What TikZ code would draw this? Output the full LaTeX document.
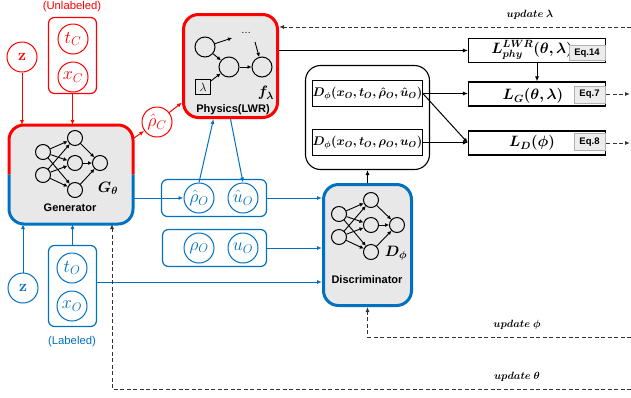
\RequirePackage{fix-cm}
\documentclass[tikz,border=0pt]{standalone}
\usepackage{amsmath,bm}
\usepackage[no-math]{fontspec}
\setmainfont{Liberation Sans}
\usetikzlibrary{arrows.meta,positioning}
\definecolor{rd}{RGB}{255,0,0}
\definecolor{bl}{RGB}{0,112,192}
\definecolor{fillgray}{RGB}{232,232,232}
\definecolor{dashgray}{RGB}{50,50,50}
\tikzset{
	arr/.style={-{Latex[length=5pt,width=4pt]},line width=1pt},
	upd/.style={-{Latex[length=5pt,width=4pt]},line width=1pt,dashgray,dash pattern=on 4pt off 2.5pt},
	var/.style={circle,draw,line width=1pt,minimum size=30pt,inner sep=0pt,font=\fontsize{18}{20}\selectfont},
	grp/.style={draw,rounded corners=6pt,line width=1.2pt},
	neuron/.style={circle,draw,line width=1pt,minimum size=15pt,inner sep=0pt},
	nnarr/.style={-{Latex[length=4pt,width=4pt]},line width=0.9pt},
	bigbox/.style={rounded corners=15pt,fill=fillgray,line width=3pt,inner sep=0pt},
	lossbox/.style={draw,line width=1.1pt,minimum width=137pt,minimum height=24pt,inner sep=0pt},
	eqbtn/.style={draw=gray!60,fill=gray!15,font=\bfseries\fontsize{9.5}{10}\selectfont,inner sep=0pt,minimum height=15pt},
	blocklbl/.style={font=\bfseries\fontsize{11}{13}\selectfont},
	mathlbl/.style={font=\fontsize{15}{17}\selectfont},
	dbox/.style={draw,line width=1.1pt,minimum width=108pt,minimum height=26pt,inner sep=0pt,font=\fontsize{12.5}{14}\selectfont},
	updlbl/.style={font=\fontsize{10.5}{12}\selectfont},
}
\begin{document}
\begin{tikzpicture}[x=1pt,y=-1pt]
	\useasboundingbox (0,0) rectangle (631,397);
	% generator
	\node[bigbox,minimum width=121,minimum height=96] (gen) at (71,174.5) {};
	\draw[rd,line width=3pt,rounded corners=15pt] (gen.west) |- (gen.north) -| (gen.east);
	\draw[bl,line width=3pt,rounded corners=15pt] (gen.west) |- (gen.south) -| (gen.east);
	\node[neuron] (gi1) at (43,152) {};
	\node[neuron] (gi2) at (43,175) {};
	\foreach \n/\y in {1/138,2/163,3/190}
		\node[neuron] (gh\n) at (75,\y) {};
	\node[neuron] (gout) at (100,163) {};
	\foreach \i in {1,2}{
		\foreach \h in {1,2,3}
			\draw[nnarr] (gi\i) -- (gh\h);
	}
	\foreach \h in {1,2,3}
		\draw[nnarr] (gh\h) -- (gout);
	\node[mathlbl] (gname) at (108,188) {$\bm{G_\theta}$};
	\node[blocklbl] (gtext) at (70,208) {Generator};
	% physics
	\node[bigbox,draw=rd,minimum width=94,minimum height=103] (phys) at (230.5,66) {};
	\node[neuron,minimum size=20pt] (p1) at (205,47) {};
	\node[neuron,minimum size=20pt] (p2) at (229,67) {};
	\node[neuron,minimum size=20pt] (p3) at (262,67) {};
	\node[draw,line width=1pt,minimum size=15pt,inner sep=0pt,font=\fontsize{12}{14}\selectfont] (lam) at (203,87) {$\lambda$};
	\node (pdots) at (246,33) {\dots};
	\coordinate (pa) at (232,38);
	\coordinate (pb) at (255,42);
	\draw[nnarr] (p1) -- (pa);
	\draw[nnarr] (p1) -- (p2);
	\draw[nnarr] (lam) -- (p2);
	\draw[nnarr] (p2) -- (p3);
	\draw[nnarr] (pb) -- (p3);
	\node[mathlbl] (fname) at (266,93) {$\bm{f_\lambda}$};
	\node[blocklbl] (ptext) at (233,110) {Physics(LWR)};
	% unlabeled inputs
	\node[rd,font=\fontsize{11.3}{13}\selectfont] (unl) at (72,7) {(Unlabeled)};
	\node[grp,draw=rd,minimum width=48,minimum height=76] (grpC) at (72.5,55.5) {};
	\node[var,rd] (tC) at (73,39) {$t_C$};
	\node[var,rd] (xC) at (73,77) {$x_C$};
	\node[var,rd,font=\fontsize{16}{18}\selectfont] (zC) at (22,57) {$\mathbf{z}$};
	\node[var,rd] (rhoC) at (157,122) {$\hat{\rho}_C$};
	\draw[arr,rd] (zC) -- (zC |- gen.north);
	\draw[arr,rd] (grpC) -- (grpC |- gen.north);
	\draw[arr,rd] (gen.30) -- (rhoC);
	\draw[arr,rd] (rhoC) -- (phys.217);
	% labeled inputs
	\node[bl,font=\fontsize{11.3}{13}\selectfont] (lab) at (72,342) {(Labeled)};
	\node[grp,draw=bl,minimum width=48,minimum height=81] (grpO) at (72.5,286) {};
	\node[var,bl] (tO) at (72,268) {$t_O$};
	\node[var,bl] (xO) at (72,306) {$x_O$};
	\node[var,bl,font=\fontsize{16}{18}\selectfont] (zO) at (23,288) {$\mathbf{z}$};
	\draw[arr,bl] (zO) -- (zO |- gen.south);
	\draw[arr,bl] (grpO) -- (grpO |- gen.south);
	% generated and observed states
	\node[grp,draw=bl,minimum width=105,minimum height=37] (grpHat) at (214,198) {};
	\node[var,bl] (rhoHat) at (199,198) {$\hat{\rho}_O$};
	\node[var,bl] (uHat) at (243,198) {$\hat{u}_O$};
	\node[grp,draw=bl,minimum width=104,minimum height=37] (grpObs) at (214.5,248) {};
	\node[var,bl] (rhoO) at (199,248) {$\rho_O$};
	\node[var,bl] (uO) at (243,248) {$u_O$};
	\draw[arr,bl] (gen.east |- rhoHat) -- (rhoHat.west);
	\draw[arr,bl] (rhoHat.north) -- ([xshift=-17pt]phys.south);
	\draw[arr,bl] (phys.south) -- (uHat.north);
	% discriminator
	\node[bigbox,draw=bl,minimum width=88,minimum height=121] (disc) at (367.5,245) {};
	\node[neuron] (di1) at (339,214) {};
	\node[neuron] (di2) at (339,237) {};
	\foreach \n/\y in {1/200,2/225,3/252}
		\node[neuron] (dh\n) at (371,\y) {};
	\node[neuron] (dout) at (397,225) {};
	\foreach \i in {1,2}{
		\foreach \h in {1,2,3}
			\draw[nnarr] (di\i) -- (dh\h);
	}
	\foreach \h in {1,2,3}
		\draw[nnarr] (dh\h) -- (dout);
	\node[mathlbl] (dname) at (396,253) {$\bm{D_\phi}$};
	\node[blocklbl] (dtext) at (367,280) {Discriminator};
	\draw[arr,bl] (grpHat.east) -- (grpHat.east -| disc.west);
	\draw[arr,bl] (grpObs.east) -- (grpObs.east -| disc.west);
	\draw[arr,bl] ([yshift=4pt]grpO.east) -- ([yshift=4pt]grpO.east -| disc.west);
	% discriminator outputs
	\node[draw,line width=1.1pt,rounded corners=15pt,minimum width=124,minimum height=104] (grpD) at (367.5,117.5) {};
	\node[dbox] (dfake) at (367.5,93.5) {$\bm{D_\phi(x_O,t_O,\hat{\rho}_O,\hat{u}_O)}$};
	\node[dbox] (dreal) at (367.5,142.5) {$\bm{D_\phi(x_O,t_O,\rho_O,u_O)}$};
	\draw[arr] (disc.north) -- (grpD.south);
	% losses
	\node[lossbox] (Lphy) at (537,50.5) {};
	\node[mathlbl] (LphyT) at (532,50) {$\bm{L^{LWR}_{phy}(\theta,\lambda)}$};
	\node[eqbtn,minimum width=36] (eq14) at (587,53) {Eq.14};
	\node[lossbox] (LG) at (537,94) {};
	\node[mathlbl] (LGT) at (533,96) {$\bm{L_G(\theta,\lambda)}$};
	\node[eqbtn,minimum width=31,minimum height=17] (eq7) at (589.5,94.5) {Eq.7};
	\node[lossbox] (LD) at (537,143) {};
	\node[mathlbl] (LDT) at (532,143) {$\bm{L_D(\phi)}$};
	\node[eqbtn,minimum width=31,minimum height=17] (eq8) at (589.5,142) {Eq.8};
	\draw[arr] (Lphy.west -| phys.east) -- (Lphy.west);
	\draw[arr] (Lphy.south) -- (LG.north);
	\draw[arr] (dfake.east) -- (dfake.east -| LG.west);
	\draw[arr] (dfake.east) -- (LD.west);
	\draw[arr] (dreal.east) -- (dreal.east -| LD.west);
	% updates
	\coordinate (eL) at (631,27);
	\coordinate (eP) at (631,337);
	\coordinate (eT) at (631,389);
	\coordinate (eG) at (630,94);
	\coordinate (eD) at (630,143);
	\draw[upd] (LG.east) -- (LG.east -| eG);
	\draw[upd] (LD.east) -- (LD.east -| eD);
	\draw[upd] (eL) -- (eL -| phys.east);
	\draw[upd] (eP) -| (disc.south);
	\draw[upd] (eT) -| ([xshift=41pt]gen.south);
	\node[updlbl] (updLt) at (530,15) {$\bm{update\ \lambda}$};
	\node[updlbl] (updPt) at (517,325) {$\bm{update\ \phi}$};
	\node[updlbl] (updTt) at (517,377) {$\bm{update\ \theta}$};
\end{tikzpicture}
\end{document}
